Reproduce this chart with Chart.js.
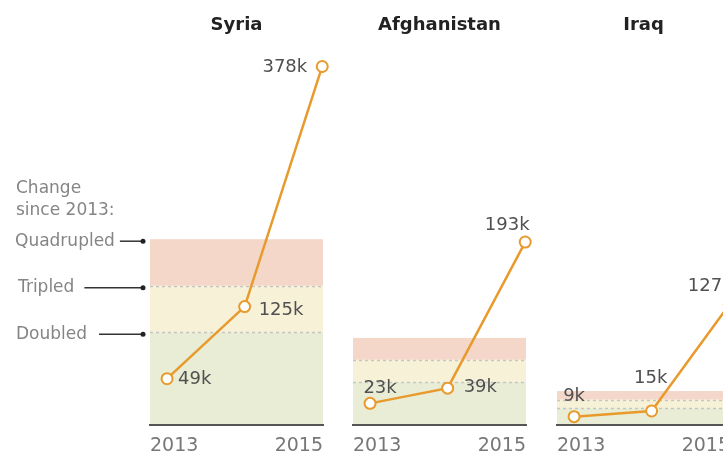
<!DOCTYPE html>
<html><head><meta charset="utf-8">
<script src="https://cdn.jsdelivr.net/npm/chart.js@4"></script>
<style>
html,body{margin:0;padding:0;background:#fff;}
#wrap{position:relative;width:723px;height:456px;overflow:hidden;background:#fff;}
#wrap canvas{position:absolute;left:0;top:0;}
</style></head><body>
<div id="wrap">
<canvas id="c0" width="800" height="466"></canvas>
<canvas id="c1" width="800" height="466"></canvas>
<canvas id="c2" width="800" height="466"></canvas>
</div>
<script>
// ---- data ----
const countries = ['Syria', 'Afghanistan', 'Iraq'];
const years = [2013, 2014, 2015];
const tickLabels = ['2013', '2015'];
const syria = [49, 125, 378];
const afghanistan = [23, 39, 193];
const iraq = [9, 15, 127];
const bandMultiples = [2, 3, 4];
const bandNames = ['Doubled', 'Tripled', 'Quadrupled'];
const legendTitle = ['Change', 'since 2013:'];

// ---- styles / layout ----
const seriesList = [syria, afghanistan, iraq];
const panelLeft = [150, 353, 557];
const panelWidth = 173;
const canvasW = 800;
const FONT = '"DejaVu Sans", Verdana, sans-serif';
const ORANGE = '#e89a2c';
const bandColors = ['#e9edd6', '#f7f1d8', '#f4d7c8'];
// [align, dx, dy] for each point's value label
const labelPlacement = [
  [['left', 11, 1], ['left', 14, 4], ['right', -15, 1]],
  [['center', 10, -15], ['left', 16, -1], ['center', -18, -17]],
  [['center', 0, -20], ['center', -1, -33], ['center', -19, -18]]
];

const bandsPlugin = {
  id: 'bands',
  beforeDraw(chart, args, opts) {
    const ctx = chart.ctx, ys = chart.scales.y, ca = chart.chartArea;
    const base = chart.data.datasets[0].data[0].y;
    const levels = [0].concat(bandMultiples.map(m => m * base));
    ctx.save();
    for (let i = 0; i < bandMultiples.length; i++) {
      const y0 = ys.getPixelForValue(levels[i]);
      const y1 = ys.getPixelForValue(levels[i + 1]);
      ctx.fillStyle = bandColors[i];
      ctx.fillRect(ca.left, y1, ca.right - ca.left, y0 - y1);
    }
    ctx.strokeStyle = '#c6c6c0';
    ctx.lineWidth = 1.5;
    ctx.setLineDash([3, 3]);
    for (let i = 1; i < bandMultiples.length; i++) {
      const y = Math.round(ys.getPixelForValue(levels[i])) + 0.5;
      ctx.beginPath();
      ctx.moveTo(ca.left, y);
      ctx.lineTo(ca.right, y);
      ctx.stroke();
    }
    ctx.restore();
  }
};

const valueLabelsPlugin = {
  id: 'valueLabels',
  afterDatasetsDraw(chart, args, opts) {
    const ctx = chart.ctx;
    const meta = chart.getDatasetMeta(0);
    const vals = chart.data.datasets[0].data;
    const pl = opts.placement;
    ctx.save();
    ctx.font = '18px ' + FONT;
    ctx.fillStyle = '#505050';
    ctx.textBaseline = 'middle';
    meta.data.forEach((pt, i) => {
      const [align, dx, dy] = pl[i];
      ctx.textAlign = align;
      ctx.fillText(vals[i].y + 'k', pt.x + dx, pt.y + dy);
    });
    ctx.restore();
  }
};

const keyPlugin = {
  id: 'changeKey',
  afterDraw(chart, args, opts) {
    if (!opts.show) return;
    const ctx = chart.ctx, ys = chart.scales.y;
    const base = chart.data.datasets[0].data[0].y;
    ctx.save();
    ctx.font = '17px ' + FONT;
    ctx.fillStyle = '#858585';
    ctx.textBaseline = 'middle';
    ctx.textAlign = 'left';
    ctx.fillText(legendTitle[0], 16, 189);
    ctx.fillText(legendTitle[1], 16, 211);
    const textX = [16, 18, 15];
    const gap = [12, 10, 5];
    bandMultiples.forEach((m, i) => {
      const y = ys.getPixelForValue(m * base) + 2;
      ctx.fillStyle = '#858585';
      ctx.fillText(bandNames[i], textX[i], y);
      const w = ctx.measureText(bandNames[i]).width;
      const x0 = textX[i] + w + gap[i], x1 = 143;
      ctx.strokeStyle = '#333';
      ctx.lineWidth = 1.5;
      ctx.beginPath();
      ctx.moveTo(x0, y);
      ctx.lineTo(x1, y);
      ctx.stroke();
      ctx.fillStyle = '#222';
      ctx.beginPath();
      ctx.arc(x1, y, 2.5, 0, Math.PI * 2);
      ctx.fill();
    });
    ctx.restore();
  }
};

countries.forEach((name, p) => {
  const vals = seriesList[p];
  const left = panelLeft[p];
  const right = canvasW - (left + panelWidth);
  new Chart(document.getElementById('c' + p), {
    type: 'line',
    data: {
      datasets: [{
        label: name,
        data: years.map((yr, i) => ({ x: yr, y: vals[i] })),
        borderColor: ORANGE,
        borderWidth: 2.5,
        pointRadius: 5.5,
        pointBorderWidth: 2,
        pointBackgroundColor: '#ffffff',
        pointBorderColor: ORANGE,
        tension: 0,
        clip: false
      }]
    },
    options: {
      responsive: false,
      animation: false,
      events: [],
      layout: { autoPadding: false, padding: { left: left, right: right, top: 0, bottom: 0 } },
      plugins: {
        legend: { display: false },
        tooltip: { enabled: false },
        title: {
          display: true,
          text: name,
          fullSize: false,
          color: '#222',
          font: { family: FONT, size: 18, weight: 'bold' },
          padding: { top: 15, bottom: 9 }
        },
        valueLabels: { placement: labelPlacement[p] },
        changeKey: { show: p === 0 }
      },
      scales: {
        x: {
          type: 'linear',
          min: 2012.78,
          max: 2015.01,
          grid: { display: false, drawTicks: false, tickLength: 0 },
          border: { display: true, color: '#555', width: 2 },
          afterBuildTicks(axis) {
            axis.ticks = [{ value: axis.min }, { value: axis.max }];
          },
          ticks: {
            align: 'inner',
            maxRotation: 0,
            padding: 9,
            color: '#777',
            font: { family: FONT, size: 19 },
            callback: (v, i) => tickLabels[i]
          }
        },
        y: {
          type: 'linear',
          display: false,
          min: 0,
          max: 400
        }
      }
    },
    plugins: [bandsPlugin, valueLabelsPlugin, keyPlugin]
  });
});
</script>
</body></html>
